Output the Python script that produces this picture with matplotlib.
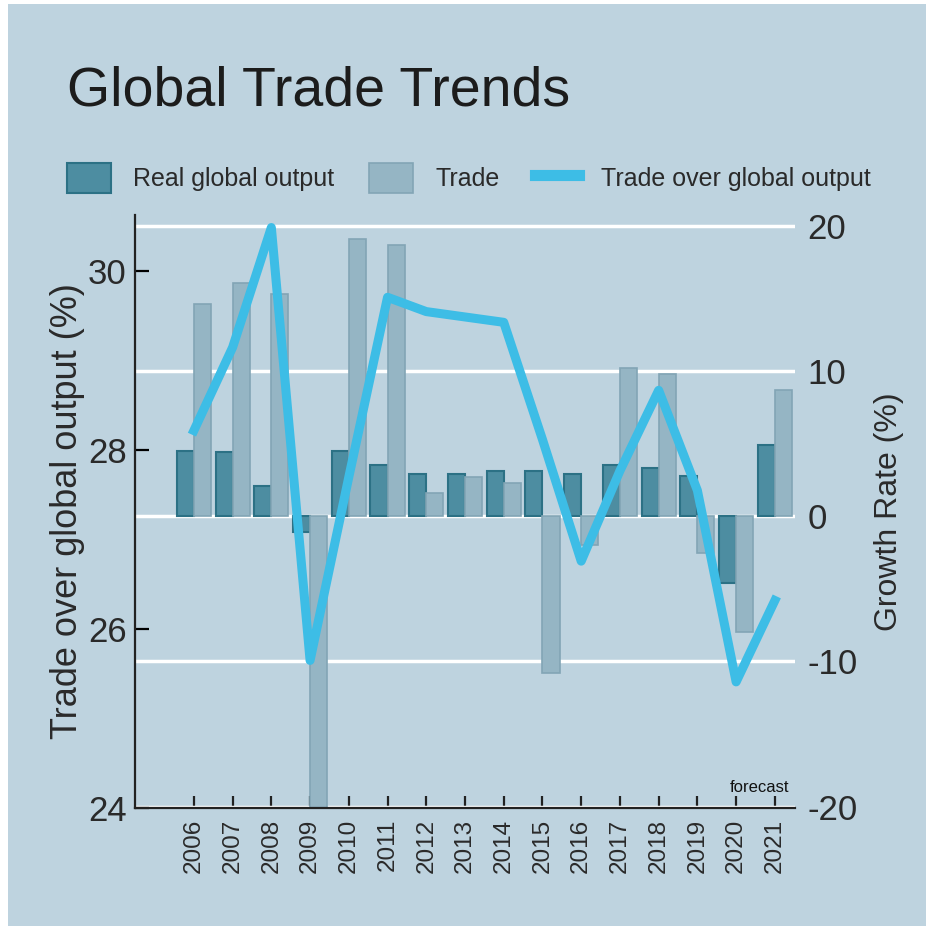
import numpy as np
import matplotlib
matplotlib.use("Agg")
import matplotlib.pyplot as plt
from matplotlib.patches import Patch, Rectangle
from matplotlib.lines import Line2D

years = ["2006", "2007", "2008", "2009", "2010", "2011", "2012", "2013",
         "2014", "2015", "2016", "2017", "2018", "2019", "2020", "2021"]
real_output = [4.5, 4.4, 2.1, -1.1, 4.5, 3.5, 2.9, 2.9, 3.1, 3.1, 2.9, 3.5, 3.3, 2.8, -4.6, 4.9]
trade = [14.6, 16.1, 15.3, -20.5, 19.1, 18.7, 1.6, 2.7, 2.3, -10.8, -2.0, 10.2, 9.8, -2.5, -8.0, 8.7]
trade_over_output = [28.22, 29.15, 30.49, 25.65, 27.70, 29.71, 29.55, 29.49, 29.43,
                     28.12, 26.76, 27.77, 28.67, 27.55, 25.41, 26.32]

bg = "#bed3df"
dark_fill, dark_edge = "#4d8da1", "#2c7185"
light_fill, light_edge = "#95b5c4", "#82a5b5"
line_col = "#3dbde6"
txt = "#2a2a2a"

plt.rcParams["font.family"] = ["Liberation Sans", "DejaVu Sans"]
plt.rcParams["axes.unicode_minus"] = False

fig = plt.figure(figsize=(9.26, 9.26), dpi=100, facecolor="white")
fig.patches.append(Rectangle((8 / 926, 0), 1, 1 - 4 / 926, transform=fig.transFigure,
                             facecolor=bg, edgecolor="none", zorder=-5))

ax2 = fig.add_axes([135 / 926, 118 / 926, 660 / 926, 593 / 926])
ax = ax2.twinx()
ax.yaxis.tick_left()
ax.yaxis.set_label_position("left")
ax2.yaxis.tick_right()
ax2.yaxis.set_label_position("right")

x = np.arange(len(years))
w = 0.44
ax2.set_facecolor(bg)
ax2.bar(x - 0.22, real_output, w, color=dark_fill, edgecolor=dark_edge, linewidth=1.5, zorder=2)
ax2.bar(x + 0.22, trade, w, color=light_fill, edgecolor=light_edge, linewidth=1.2, zorder=2)
ax2.set_ylim(-20.1, 20.75)
ax2.set_yticks([-20, -10, 0, 10, 20])
ax2.grid(axis="y", color="white", linewidth=2.5)
ax2.set_axisbelow(True)
for s in ax2.spines.values():
    s.set_visible(False)
ax2.tick_params(axis="y", length=0, pad=9, labelsize=25, labelcolor=txt)
ax2.set_ylabel("Growth Rate (%)", fontsize=23, color=txt, labelpad=12)

ax.set_zorder(ax2.get_zorder() + 1)
ax.patch.set_visible(False)
ax.plot(x, trade_over_output, color=line_col, linewidth=6.5, zorder=3)
ax.set_ylim(24, 30.63)
ax.set_yticks([24, 26, 28, 30])
ax.set_xlim(-1.52, 15.52)
for side in ["top", "right"]:
    ax.spines[side].set_visible(False)
for side in ["left", "bottom"]:
    ax.spines[side].set_linewidth(1.6)
    ax.spines[side].set_color("#222222")
ax.tick_params(axis="y", direction="in", length=10, width=1.6, pad=6,
               labelsize=25, labelcolor=txt)
ax.set_ylabel("Trade over global output (%)", fontsize=26, color=txt, labelpad=2)
ax.tick_params(axis="x", bottom=False, labelbottom=False)

ax2.set_xticks(x)
ax2.set_xticklabels(years, rotation=90, fontsize=17.5, color=txt)
ax2.tick_params(axis="x", direction="in", length=9, width=1.6, pad=8, color="#222222")
ax2.set_xlim(-1.52, 15.52)

ax.text(0.992, 0.022, "forecast", transform=ax.transAxes, ha="right", va="bottom",
        fontsize=12, color="#111111")

fig.text(67 / 926, 1 - 105 / 926, "Global Trade Trends", fontsize=40, color="#1c1c1c",
         ha="left", va="baseline")

handles = [Patch(facecolor=dark_fill, edgecolor=dark_edge, linewidth=1.5),
           Patch(facecolor=light_fill, edgecolor=light_edge, linewidth=1.2),
           Line2D([0], [0], color=line_col, linewidth=8)]
labels = ["Real global output", "Trade", "Trade over global output"]
fig.legend(handles, labels, ncol=3, loc="center left",
           bbox_to_anchor=(67 / 926, 1 - 178 / 926), frameon=False,
           prop={"size": 18}, labelcolor=txt,
           handlelength=1.75, handleheight=1.45, handletextpad=0.9,
           columnspacing=1.4, borderpad=0, borderaxespad=0)

fig.savefig("out.png", dpi=100, facecolor=fig.get_facecolor())
